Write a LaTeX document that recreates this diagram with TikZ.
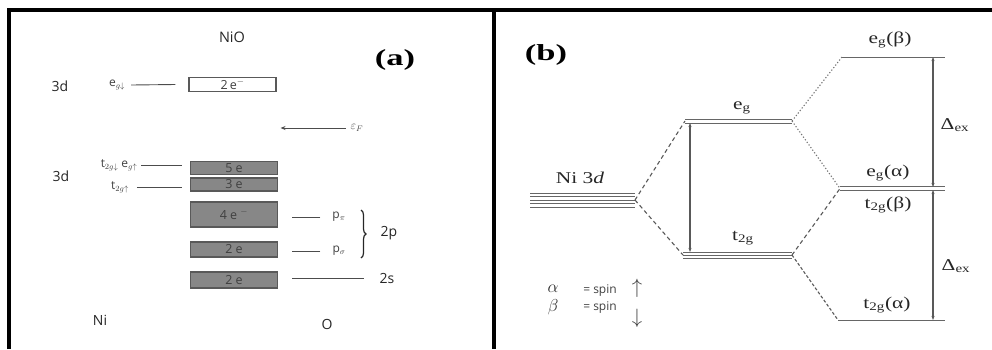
\documentclass[tikz,border=0pt]{standalone}
\usepackage{fontspec}
\usepackage{graphicx}
\setmainfont{Liberation Serif}
\setsansfont{Open Sans}
\usetikzlibrary{decorations.pathreplacing,arrows.meta}
\newcommand{\hsc}[2]{\scalebox{#1}[1]{#2}}
\begin{document}
\begin{tikzpicture}[x=1pt,y=-1pt,
  frame/.style={line width=3.2pt,line join=miter},
  lab/.style={font=\sffamily\fontsize{14}{14}\selectfont,inner sep=0pt,text=black!85},
  sml/.style={font=\sffamily\fontsize{12}{12}\selectfont,inner sep=0pt,text=black!75},
  boxw/.style={draw=black!65,line width=1.2pt,fill=white,minimum width=87pt,inner sep=0pt,
    font=\sffamily\fontsize{12.5}{12.5}\selectfont,text=black!75},
  boxg/.style={boxw,fill=black!47,text=black!75},
  tick/.style={draw=black!70,line width=0.9pt},
  lvl/.style={draw=black!60,line width=1pt},
  srf/.style={font=\fontsize{16.5}{16.5}\selectfont,inner sep=0pt,text=black!85},
  big/.style={font=\bfseries\fontsize{23}{23}\selectfont,inner sep=0pt},
  dsh/.style={draw=black!65,line width=1.1pt,dash pattern=on 4pt off 3pt},
  dot/.style={draw=black!55,line width=1.1pt,dash pattern=on 1.2pt off 2pt},
  dar/.style={draw=black!65,line width=1.1pt,{Stealth[length=4pt,width=3pt]}-{Stealth[length=4pt,width=3pt]}}
]
\useasboundingbox (0,0) rectangle (992,349);
% frames
\draw[frame] (9,349) -- (9,10) -- (494,10) -- (494,349);
\draw[frame] (494,10) -- (992,10);

% ---------- panel (a)
\node[lab,font=\sffamily\fontsize{14.5}{14.5}\selectfont] (nio) at (232,37) {NiO};
\node[big] (pa) at (395,60) {\hsc{1.5}{(a)}};
\node[lab] (d1) at (60,86) {3d};
\node[sml] (egd) at (117,85) {e$_{g\downarrow}$};
\node[boxw,minimum height=14pt] (b1) at (232.5,84.5) {2\,e$^{-}$};
\draw[tick] ([xshift=6pt]egd.east) -- ([xshift=-13pt]b1.west);

\node[sml] (ef) at (357,128) {$\varepsilon_{F}$};
\draw[tick,-{Stealth[length=5pt,width=4pt]}] ([xshift=-5pt]ef.west) -- ++(-65,0) coordinate (efend);

\node[lab] (d2) at (61,176) {3d};
\node[sml] (t2d) at (119,165) {t$_{2g\downarrow}$ e$_{g\uparrow}$};
\node[sml] (t2u) at (120,187) {t$_{2g\uparrow}$};
\node[boxg,minimum height=13pt] (b5) at (234,168) {5 e};
\node[boxg,minimum height=13pt] (b3) at (234,184.5) {3 e};
\node[boxg,minimum height=25pt] (b4) at (234,214.5) {4 e $^{-}$};
\node[boxg,minimum height=15pt] (b2a) at (234,249.5) {2 e};
\node[boxg,minimum height=16pt] (b2b) at (234,280) {2 e};
\draw[tick] ([xshift=4pt]t2d.east) -- ([xshift=-8pt]b5.west |- t2d.east);
\draw[tick] ([xshift=8pt]t2u.east) -- ([xshift=-8pt]b3.west |- t2u.east);

\node[sml] (ppi) at (339,217) {p$_{\pi}$};
\node[sml] (psg) at (339,251) {p$_{\sigma}$};
\draw[tick] ([xshift=-12pt]ppi.west) -- ([xshift=14pt]b4.east |- ppi.west);
\draw[tick] ([xshift=-12pt]psg.west) -- ([xshift=14pt]b2a.east |- psg.west);
\coordinate (brt) at (361,210);
\coordinate (brb) at (361,258);
\draw[draw=black!85,line width=1.2pt,decorate,decoration={brace,amplitude=5pt}] (brt) -- (brb);
\node[lab] (p2) at (389,233) {2p};
\node[lab] (s2) at (387,278) {2s};
\draw[tick] ([xshift=14pt]b2b.east |- s2.west) -- ([xshift=-15pt]s2.west);

\node[lab] (ni) at (100,320) {Ni};
\node[lab] (ox) at (327,324) {O};

% ---------- panel (b)
\node[big] (pb) at (546,55) {\hsc{1.5}{(b)}};

% levels
\foreach \y in {193,196.5,200,203.5,207} \draw[lvl,line width=0.9pt] (530,\y) -- (635,\y);
\coordinate (n3) at (635,200);
\coordinate (egL) at (685,121);
\coordinate (egR) at (792,121);
\draw[lvl] (egL) ++(0,-2) -- ++(107,0);
\draw[lvl] (egL) ++(0,2) -- ++(107,0);
\coordinate (tgL) at (683,255);
\coordinate (tgR) at (792,255);
\foreach \d in {-3,0,3} \draw[lvl,line width=0.9pt] (tgL) ++(0,\d) -- ++(109,0);
\coordinate (ebL) at (842,57);
\coordinate (ebR) at (945,57);
\draw[lvl] (ebL) -- (ebR);
\coordinate (eaL) at (840,188.5);
\coordinate (eaR) at (945,188.5);
\draw[lvl] (eaL) ++(0,-1.8) -- ++(105,0);
\draw[lvl] (eaL) ++(0,1.8) -- ++(105,0);
\coordinate (taL) at (838,320);
\coordinate (taR) at (945,320);
\draw[lvl] (taL) -- (taR);

% correlation lines
\draw[dsh] (n3) -- (egL);
\draw[dsh] (n3) -- (tgL);
\draw[dot] (egR) -- (ebL);
\draw[dot] (egR) -- (eaL);
\draw[dsh] (tgR) -- (eaL);
\draw[dsh,dash pattern=on 3pt off 2pt] (tgR) -- (taL);

% splitting arrows
\coordinate (a1t) at (690,123);
\coordinate (a1b) at (690,252);
\draw[dar] (a1t) -- (a1b);
\coordinate (a2t) at (933,57);
\coordinate (a2b) at (933,187);
\draw[dar] (a2t) -- (a2b);
\coordinate (a3t) at (933,190);
\coordinate (a3b) at (933,320);
\draw[dar] (a3t) -- (a3b);

% labels
\node[srf] (lni) at (580,178) {\hsc{1.3}{Ni 3\textit{d}}};
\node[srf] (leg) at (742,108) {\hsc{1.3}{e$_{\mathrm{g}}$}};
\node[srf] (ltg) at (743,238) {\hsc{1.3}{t$_{\mathrm{2g}}$}};
\node[srf] (leb) at (890,40) {\hsc{1.3}{e$_{\mathrm{g}}$(β)}};
\node[srf] (lea) at (888,173) {\hsc{1.3}{e$_{\mathrm{g}}$(α)}};
\node[srf] (ltb) at (888,205) {\hsc{1.3}{t$_{\mathrm{2g}}$(β)}};
\node[srf] (lta) at (887,305) {\hsc{1.3}{t$_{\mathrm{2g}}$(α)}};
\node[srf] (dx1) at (955,125) {\hsc{1.3}{Δ$_{\mathrm{ex}}$}};
\node[srf] (dx2) at (956,266) {\hsc{1.3}{Δ$_{\mathrm{ex}}$}};

% legend
\node[srf] (la) at (553,289) {$\alpha$};
\node[srf] (lb) at (553,307) {$\beta$};
\node[sml] (sa) at (600,291) {= spin};
\node[sml] (sb) at (600,308) {= spin};
\node[inner sep=0pt,font=\fontsize{22}{22}\selectfont,text=black!75] (ua) at (637,288) {$\uparrow$};
\node[inner sep=0pt,font=\fontsize{22}{22}\selectfont,text=black!75] (da) at (637,318) {$\downarrow$};
\end{tikzpicture}
\end{document}
